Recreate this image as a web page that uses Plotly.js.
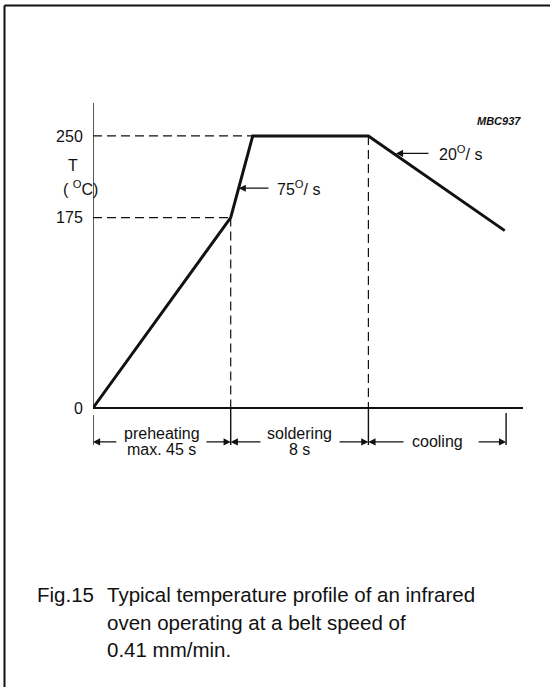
<!DOCTYPE html>
<html><head><meta charset="utf-8">
<script src="https://cdn.plot.ly/plotly-3.0.1.min.js"></script>
<style>html,body{margin:0;padding:0;background:#fff}#chart{width:550px;height:687px}</style>
</head><body><div id="chart"></div>
<script>
// ---- data (schematic profile) ----
const phasePos = [0, 1, 1.16, 2, 2.99];          // position along the belt (phase units)
const tempC    = [0, 175, 250, 250, 163];        // temperature, deg C
const yTicks   = [0, 175, 250];
const yTickText = ['0', '175', '250'];
const phaseBounds = [0, 1, 2, 3];
const phaseLine1 = ['preheating', 'soldering', 'cooling'];
const phaseLine2 = ['max. 45 s', '8 s', ''];
const rateLabels = ['75<sup>O</sup>/ s', '20<sup>O</sup>/ s'];
const captionLines = ['Typical temperature profile of an infrared',
                      'oven operating at a belt speed of',
                      '0.41 mm/min.'];

// ---- geometry helpers (layout only) ----
const L = 93, R = 27, T = 103, B = 227, W = 550, H = 687;
const pw = W - L - R, ph = H - T - B;
const px = v => (v - L) / pw;          // pixel x -> paper
const py = v => (H - B - v) / ph;      // pixel y -> paper
const yr = [-47.8, 280.3];
const xr = [0, 3.1227];
const font = 'Liberation Sans, Arial, Helvetica, sans-serif';
const black = '#111';

const dash = {color: black, width: 1.2, dash: '9px,5px'};
const solid = {color: black, width: 1.4};
const shapes = [
  // frame (top and left)
  {type:'line', xref:'paper', yref:'paper', x0:px(4.5), x1:px(550), y0:py(5.5), y1:py(5.5), line:{color:black, width:2}},
  {type:'line', xref:'paper', yref:'paper', x0:px(4.5), x1:px(4.5), y0:py(5.5), y1:py(687), line:{color:black, width:2}},
  // y axis line
  {type:'line', xref:'x', yref:'y', x0:0, x1:0, y0:0, y1:yr[1], line:solid},
  // dashed guides
  {type:'line', xref:'x', yref:'y', x0:0, x1:phasePos[2], y0:tempC[2], y1:tempC[2], line:dash},
  {type:'line', xref:'x', yref:'y', x0:0, x1:phasePos[1], y0:tempC[1], y1:tempC[1], line:dash},
  {type:'line', xref:'x', yref:'y', x0:phasePos[1], x1:phasePos[1], y0:tempC[1], y1:0, line:dash},
  {type:'line', xref:'x', yref:'y', x0:phasePos[3], x1:phasePos[3], y0:tempC[3], y1:0, line:dash},
  // bracket verticals below axis
  {type:'line', xref:'x', yref:'y', x0:phaseBounds[0], x1:phaseBounds[0], y0:-6.4, y1:-34, line:solid},
  {type:'line', xref:'x', yref:'y', x0:phaseBounds[1], x1:phaseBounds[1], y0:0, y1:-34, line:solid},
  {type:'line', xref:'x', yref:'y', x0:phaseBounds[2], x1:phaseBounds[2], y0:0, y1:-34, line:solid},
  {type:'line', xref:'x', yref:'y', x0:phaseBounds[3], x1:phaseBounds[3], y0:-4.6, y1:-34, line:solid}
];

const ann = [];
const arrowY = -31.2;
function arrow(xHead, yHead, xTail, yTail){
  ann.push({x:xHead, y:yHead, ax:xTail, ay:yTail, xref:'x', yref:'y', axref:'x', ayref:'y',
    text:'', showarrow:true, arrowhead:2, arrowsize:1.1, arrowwidth:1.3, arrowcolor:black, standoff:0, startstandoff:0});
}
function txt(x, y, s, size, opts){
  ann.push(Object.assign({x:x, y:y, xref:'x', yref:'y', text:s, showarrow:false,
    font:{family:font, size:size, color:black}}, opts||{}));
}
// phase brackets
arrow(0, arrowY, 0.18, arrowY);   arrow(1, arrowY, 0.813, arrowY);
arrow(1, arrowY, 1.227, arrowY);  arrow(2, arrowY, 1.78, arrowY);
arrow(2, arrowY, 2.266, arrowY);  arrow(3, arrowY, 2.79, arrowY);
for (let i = 0; i < 3; i++) {
  const mid = (phaseBounds[i] + phaseBounds[i+1]) / 2;
  if (phaseLine2[i]) {
    txt(mid, -23, phaseLine1[i], 16);
    txt(mid, -38.6, phaseLine2[i], 16);
  } else {
    txt(mid, arrowY, phaseLine1[i], 16);
  }
}
// rate labels
arrow(1.058, 202, 1.285, 202);
txt(1.32, 202, rateLabels[0], 16, {xanchor:'left'});
arrow(2.2, 234, 2.447, 234);
txt(2.5, 234, rateLabels[1], 16, {xanchor:'left'});
// axis title
ann.push({xref:'paper', yref:'y', x:px(65.5), y:223.3, text:'T', showarrow:false, font:{family:font, size:16, color:black}});
ann.push({xref:'paper', yref:'y', x:px(61), y:202.2, text:'( <sup>O</sup>C)', showarrow:false, font:{family:font, size:16, color:black}});
// figure code
ann.push({xref:'paper', yref:'paper', x:1, y:py(113), xanchor:'right', text:'<b><i>MBC937</i></b>', showarrow:false, font:{family:font, size:11, color:black}});
// caption
ann.push({xref:'paper', yref:'paper', x:px(35), y:py(608), xanchor:'left', text:'Fig.15', showarrow:false, font:{family:font, size:20.5, color:black}});
const capY = [608, 636, 663];
captionLines.forEach((s, i) => ann.push({xref:'paper', yref:'paper', x:px(105), y:py(capY[i]), xanchor:'left', text:s, showarrow:false, font:{family:font, size:20.5, color:black}}));

const trace = {x: phasePos, y: tempC, type:'scatter', mode:'lines', line:{color:black, width:3}, cliponaxis:false, hoverinfo:'skip'};

const layout = {
  width: W, height: H, margin:{l:L, r:R, t:T, b:B, pad:0},
  paper_bgcolor:'#fff', plot_bgcolor:'#fff', showlegend:false,
  xaxis:{range:xr, showgrid:false, zeroline:false, showline:false, showticklabels:false, ticks:''},
  yaxis:{range:yr, showgrid:false, zeroline:true, zerolinecolor:black, zerolinewidth:1.4, showline:false,
         tickvals:yTicks, ticktext:yTickText, ticks:'outside', ticklen:6, tickcolor:'rgba(0,0,0,0)',
         tickfont:{family:font, size:16, color:black}},
  shapes: shapes, annotations: ann
};
Plotly.newPlot('chart', [trace], layout, {staticPlot:true, displayModeBar:false});
</script></body></html>
